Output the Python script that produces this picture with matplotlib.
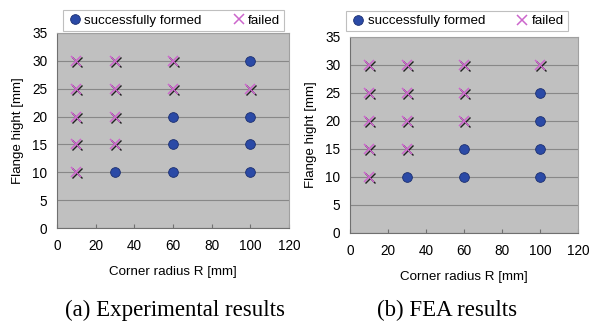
import numpy as np
import matplotlib
matplotlib.use("Agg")
import matplotlib.pyplot as plt
import matplotlib.transforms as mtrans

plt.rcParams['font.family'] = ['Liberation Sans', 'DejaVu Sans']

# (a) experimental results
exp_ok_R = [30, 60, 60, 60, 100, 100, 100, 100]
exp_ok_H = [10, 10, 15, 20, 10, 15, 20, 30]
exp_fail_R = [10, 10, 10, 10, 10, 30, 30, 30, 30, 60, 60, 100]
exp_fail_H = [10, 15, 20, 25, 30, 15, 20, 25, 30, 25, 30, 25]

# (b) FEA results
fea_ok_R = [30, 60, 60, 100, 100, 100, 100]
fea_ok_H = [10, 10, 15, 10, 15, 20, 25]
fea_fail_R = [10, 10, 10, 10, 10, 30, 30, 30, 30, 60, 60, 60, 100]
fea_fail_H = [10, 15, 20, 25, 30, 15, 20, 25, 30, 20, 25, 30, 30]

xticks = [0, 20, 40, 60, 80, 100, 120]
yticks = [0, 5, 10, 15, 20, 25, 30, 35]

fig = plt.figure(figsize=(6, 3.25), dpi=100)

def panel(rect, ok_R, ok_H, fail_R, fail_H, leg_box, caption, cap_x):
    ax = fig.add_axes(rect)
    ax.set_facecolor('#c0c0c0')
    ax.set_xlim(0, 120)
    ax.set_ylim(0, 35)
    ax.set_xticks(xticks)
    ax.set_yticks(yticks)
    ax.grid(axis='y', color='#888888', lw=0.8)
    ax.set_axisbelow(True)
    for s in ax.spines.values():
        s.set_color('#a0a0a0')
        s.set_linewidth(0.8)
    ax.spines['left'].set_color('#707070')
    ax.spines['bottom'].set_color('#707070')
    ax.tick_params(direction='in', length=3, color='#707070', labelsize=9.8, pad=8)
    ax.tick_params(axis='y', length=0, pad=7)
    # black shadow of the crosses, shifted a little
    shadow = ax.transData + mtrans.ScaledTranslation(1/100, -1/100, fig.dpi_scale_trans)
    ax.plot(fail_R, fail_H, 'x', color='#202020', ms=7, mew=1.0, transform=shadow)
    ax.plot(fail_R, fail_H, 'x', color='#cc66cc', ms=7, mew=1.1, label='failed')
    ax.plot(ok_R, ok_H, 'o', color='#2b4aa6', mec='#1c2f70', mew=0.6, ms=7,
            label='successfully formed', zorder=3)
    ax.set_xlabel('Corner radius R [mm]', fontsize=9.6, labelpad=9)
    ax.set_ylabel('Flange hight [mm]', fontsize=9.6, labelpad=6)
    h, l = ax.get_legend_handles_labels()
    leg = fig.legend(h[::-1], l[::-1], loc='center', bbox_to_anchor=leg_box,
                     ncol=2, fontsize=9.6, frameon=True, fancybox=False,
                     handletextpad=0.1, columnspacing=2.2, handlelength=1.2,
                     borderpad=0.3)
    leg.get_frame().set_edgecolor('#b0b0b0')
    leg.get_frame().set_linewidth(0.8)
    fig.text(cap_x, 0.045, caption, ha='center', va='center', fontsize=16.5,
             family='Liberation Serif')
    return ax

panel([57/600, 97/325, 232/600, 195/325], exp_ok_R, exp_ok_H, exp_fail_R, exp_fail_H,
      (61/600, 293/325, 225/600, 23/325), '(a) Experimental results', 175/600)
panel([350/600, 92/325, 228/600, 196/325], fea_ok_R, fea_ok_H, fea_fail_R, fea_fail_H,
      (347/600, 291/325, 220/600, 26/325), '(b) FEA results', 447/600)

fig.savefig('out.png', dpi=100)
